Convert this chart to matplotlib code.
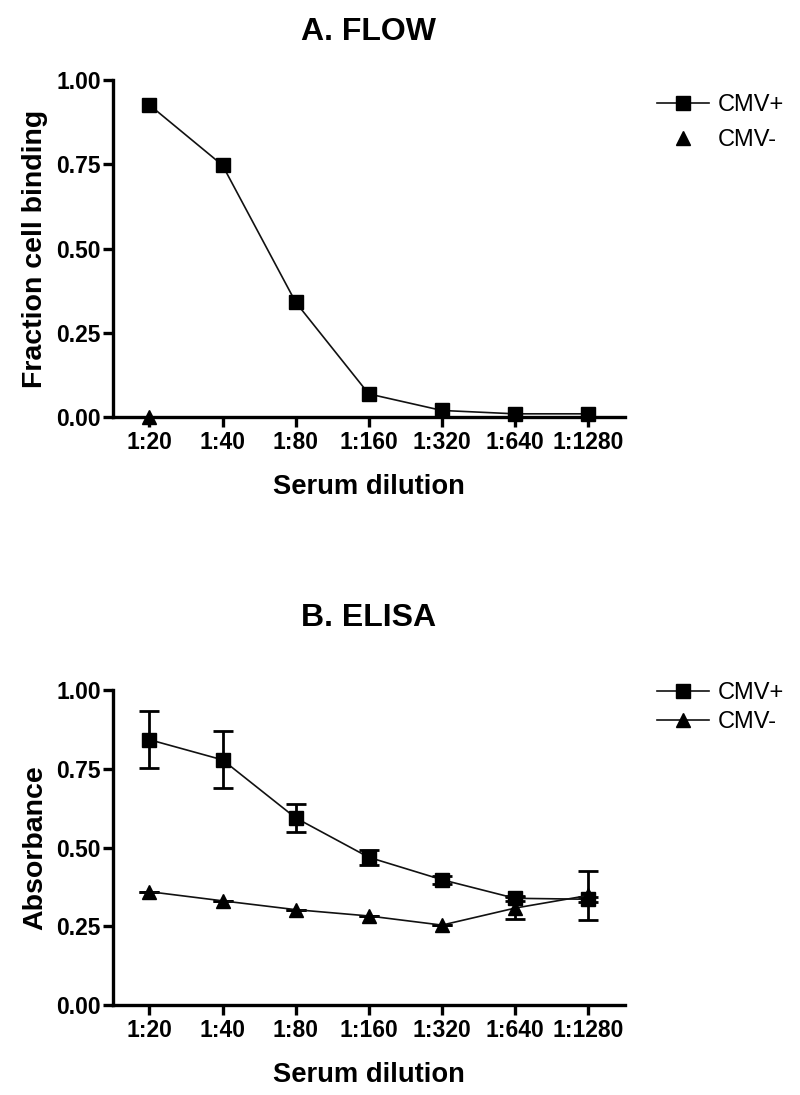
"""Flow cytometry vs ELISA titration of CMV+ / CMV- serum."""

import matplotlib.pyplot as plt
import numpy as np
from matplotlib.lines import Line2D

plt.rcParams["font.family"] = ["Liberation Sans", "DejaVu Sans"]

dilutions = ["1:20", "1:40", "1:80", "1:160", "1:320", "1:640", "1:1280"]

# A. FLOW
flow_pos = [0.926, 0.747, 0.341, 0.069, 0.020, 0.010, 0.010]
flow_neg = [0.0]  # only the 1:20 point is visible

# B. ELISA
elisa_pos = [0.842, 0.778, 0.594, 0.469, 0.398, 0.339, 0.336]
elisa_pos_err = [0.091, 0.090, 0.045, 0.024, 0.013, 0.008, 0.008]
elisa_neg = [0.360, 0.331, 0.303, 0.283, 0.254, 0.308, 0.348]
elisa_neg_err = [0.0, 0.0, 0.0, 0.0, 0.0, 0.034, 0.077]


def style_axes(ax, ylabel):
    ax.set_xlim(-0.5, 6.5)
    ax.set_ylim(0, 1.0)
    ax.set_yticks([0, 0.25, 0.5, 0.75, 1.0])
    ax.set_yticklabels(["0.00", "0.25", "0.50", "0.75", "1.00"])
    ax.set_xticks(np.arange(len(dilutions)))
    ax.set_xticklabels(dilutions)
    for side in ("top", "right"):
        ax.spines[side].set_visible(False)
    for side in ("left", "bottom"):
        ax.spines[side].set_linewidth(2.4)
    ax.tick_params(width=2.4, length=7.5, labelsize=16.5)
    ax.tick_params(axis="x", pad=2.5)
    ax.tick_params(axis="y", pad=1)
    for lab in ax.get_xticklabels() + ax.get_yticklabels():
        lab.set_fontweight("bold")
    ax.set_xlabel("Serum dilution", fontsize=19.7, fontweight="bold", labelpad=14)
    ax.set_ylabel(ylabel, fontsize=20.5, fontweight="bold", labelpad=6)


fig = plt.figure(figsize=(8, 10.95), dpi=100)
ax1 = fig.add_axes([0.141, 0.619, 0.64, 0.308])
ax2 = fig.add_axes([0.141, 0.082, 0.64, 0.288])

x = np.arange(len(dilutions))
line_kw = dict(color="#111111", lw=1.2, ms=9.5, mfc="black", mec="black")

ax1.plot(x, flow_pos, "-s", label="CMV+", clip_on=False, zorder=3, **line_kw)
ax1.plot(x[:len(flow_neg)], flow_neg, "^", color="black", ms=9.5, label="CMV-",
         clip_on=False, zorder=3)
style_axes(ax1, "Fraction cell binding")
ax1.set_title("A. FLOW", fontsize=23, fontweight="bold", pad=29)
ax1.legend(loc="upper left", bbox_to_anchor=(1.045, 0.985), frameon=False, fontsize=17,
           handlelength=2.2, handletextpad=0.35, labelspacing=0.55, borderaxespad=0)

ax2.errorbar(x, elisa_pos, yerr=elisa_pos_err, fmt="-s", elinewidth=2, capsize=7,
             capthick=2, ecolor="black", zorder=3, **line_kw)
ax2.errorbar(x, elisa_neg, yerr=elisa_neg_err, fmt="-^", elinewidth=2, capsize=7,
             capthick=2, ecolor="black", zorder=3, **line_kw)
style_axes(ax2, "Absorbance")
ax2.set_title("B. ELISA", fontsize=23, fontweight="bold", pad=46)
handles = [Line2D([], [], marker="s", **line_kw), Line2D([], [], marker="^", **line_kw)]
ax2.legend(handles, ["CMV+", "CMV-"], loc="upper left", bbox_to_anchor=(1.045, 1.054),
           frameon=False, fontsize=17, handlelength=2.2, handletextpad=0.35,
           labelspacing=0.3, borderaxespad=0)

fig.savefig("out.png", dpi=100)
